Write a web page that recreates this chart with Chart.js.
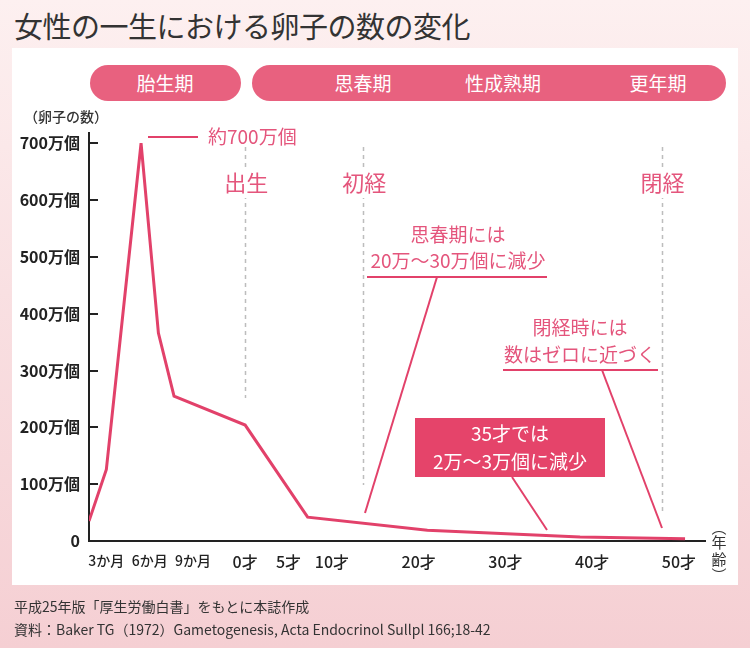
<!DOCTYPE html>
<html lang="ja">
<head>
<meta charset="UTF-8">
<title>女性の一生における卵子の数の変化</title>
<script src="https://cdn.jsdelivr.net/npm/chart.js"></script>
<style>
  html, body { margin: 0; padding: 0; }
  body {
    width: 750px; height: 648px; position: relative; overflow: hidden;
    font-family: "Noto Sans CJK JP", "Noto Sans", sans-serif;
    background: linear-gradient(180deg, #fdf0f0 0%, #f9e0e2 45%, #f5cfd3 100%);
  }
  .panel { position: absolute; left: 12px; top: 48px; width: 726px; height: 537px; background: #fff; }
  h1 { position: absolute; left: 14px; top: 5px; margin: 0; font-size: 29px; line-height: 40px;
       font-weight: 400; color: #333; letter-spacing: -0.5px; }
  .pill { position: absolute; top: 65px; height: 36px; border-radius: 18px; background: #e8617f;
          color: #fff; font-size: 19px; line-height: 36px; }
  .pill span { position: absolute; transform: translateX(-50%); white-space: nowrap; }
  #myChart { position: absolute; left: 0; top: 0; }
  .foot { position: absolute; left: 14px; top: 595px; font-size: 14px; line-height: 23px; color: #333; }
</style>
</head>
<body>
  <h1>女性の一生における卵子の数の変化</h1>
  <div class="panel"></div>
  <div class="pill" style="left:90px;width:151px;"><span style="left:75px;">胎生期</span></div>
  <div class="pill" style="left:252px;width:474px;">
    <span style="left:111px;">思春期</span>
    <span style="left:251px;">性成熟期</span>
    <span style="left:406px;">更年期</span>
  </div>
  <canvas id="myChart" width="750" height="648"></canvas>
  <div class="foot">
    平成25年版「厚生労働白書」をもとに本誌作成<br>
    資料：Baker TG（1972）Gametogenesis, Acta Endocrinol Sullpl 166;18-42
  </div>

<script>
// 横軸の位置 (出生 = 0, 胎生期は左側に圧縮)
const agePos = [-18, -16, -12, -10, -8.2, 0, 7.2, 21, 38.6, 50.7];
// 卵子の数 (万個)
const eggCount = [35, 126, 700, 366, 255, 204, 42, 19, 7, 4];

const xTickPos = [-16, -11, -6, 0, 5, 10, 20, 30, 40, 50];
const xTickLabels = ['3か月', '6か月', '9か月', '0才', '5才', '10才', '20才', '30才', '40才', '50才'];
const yTickValues = [0, 100, 200, 300, 400, 500, 600, 700];

// 出生・初経・閉経
const eventPos = [0, 13.6, 48];
const eventLabels = ['出生', '初経', '閉経'];

const PINK = '#e4557c';
const LINE = '#e2416a';

// 目盛り線(内向き)・点線・注釈
const decoPlugin = {
    id: 'deco',
    beforeDatasetsDraw: function (chart) {
        const ctx = chart.ctx;
        const x = chart.scales.x;
        const y = chart.scales.y;
        ctx.save();
        // 点線
        const bottoms = [398, 485, 515];
        ctx.strokeStyle = '#bdbdbd';
        ctx.lineWidth = 1.5;
        ctx.setLineDash([4, 4]);
        eventPos.forEach(function (v, i) {
            const px = Math.round(x.getPixelForValue(v)) + 0.5;
            ctx.beginPath();
            ctx.moveTo(px, 147);
            ctx.lineTo(px, bottoms[i]);
            ctx.stroke();
        });
        ctx.setLineDash([]);
        // ラベル
        ctx.font = '22px "Noto Sans CJK JP"';
        ctx.textAlign = 'center';
        ctx.textBaseline = 'middle';
        eventLabels.forEach(function (t, i) {
            const px = x.getPixelForValue(eventPos[i]);
            const w = ctx.measureText(t).width;
            ctx.fillStyle = '#fff';
            ctx.fillRect(px - w / 2 - 2, 170, w + 4, 28);
            ctx.fillStyle = PINK;
            ctx.fillText(t, px + 1, 183);
        });
        // y軸の目盛り
        ctx.strokeStyle = '#222';
        ctx.lineWidth = 2;
        yTickValues.forEach(function (v) {
            if (v === 0) return;
            const py = Math.round(y.getPixelForValue(v));
            ctx.beginPath();
            ctx.moveTo(x.left, py);
            ctx.lineTo(x.left + 9, py);
            ctx.stroke();
        });
        ctx.restore();
    },
    afterDatasetsDraw: function (chart) {
        const ctx = chart.ctx;
        ctx.save();
        ctx.strokeStyle = LINE;
        ctx.lineWidth = 2;
        function line(x1, y1, x2, y2) {
            ctx.beginPath();
            ctx.moveTo(x1, y1);
            ctx.lineTo(x2, y2);
            ctx.stroke();
        }
        // 約700万個
        line(148, 137, 198, 137);
        // 思春期
        line(367, 277, 547, 277);
        line(437, 277, 365, 513);
        // 閉経時
        line(503, 370, 658, 370);
        line(602, 370, 662, 528);
        // 35才
        line(512, 477, 547, 530);
        ctx.fillStyle = '#e5446a';
        ctx.fillRect(415, 418, 190, 59);

        ctx.textBaseline = 'middle';
        ctx.fillStyle = PINK;
        ctx.textAlign = 'left';
        ctx.font = '19px "Noto Sans CJK JP"';
        ctx.fillText('約700万個', 208, 137);
        ctx.textAlign = 'center';
        ctx.fillText('思春期には', 458, 235);
        ctx.fillText('20万～30万個に減少', 458, 261);
        ctx.fillText('閉経時には', 580, 328);
        ctx.fillText('数はゼロに近づく', 580, 355);
        ctx.fillStyle = '#fff';
        ctx.fillText('35才では', 510, 434);
        ctx.fillText('2万～3万個に減少', 510, 462);

        // 軸タイトル
        ctx.fillStyle = '#333';
        ctx.textAlign = 'left';
        ctx.font = '500 14px "Noto Sans CJK JP"';
        ctx.fillText('（卵子の数）', 24, 117);
        ctx.textAlign = 'center';
        ctx.font = '15px "Noto Sans CJK JP"';
        ['︵', '年', '齢', '︶'].forEach(function (c, i) {
            ctx.fillText(c, 719, [527, 542, 559, 575][i]);
        });
        ctx.restore();
    }
};

const ctx = document.getElementById('myChart');
const config = {
    type: 'line',
    data: {
        datasets: [{
            data: agePos.map(function (v, i) { return { x: v, y: eggCount[i] }; }),
            borderColor: LINE,
            borderWidth: 3,
            pointRadius: 0,
            tension: 0,
            fill: false
        }]
    },
    options: {
        responsive: false,
        animation: false,
        layout: { padding: { top: 133, right: 45, left: 0, bottom: 0 } },
        plugins: { legend: { display: false }, tooltip: { enabled: false } },
        scales: {
            x: {
                type: 'linear',
                min: -18,
                max: 53,
                grid: { display: false, drawTicks: false },
                border: { color: '#222', width: 2 },
                afterBuildTicks: function (s) { s.ticks = xTickPos.map(function (v) { return { value: v }; }); },
                afterFit: function (s) { s.height = 107; },
                ticks: {
                    autoSkip: false,
                    maxRotation: 0,
                    padding: 11,
                    color: '#222',
                    font: function (c) {
                        // か月は詰めて小さめ
                        return { family: '"Noto Sans CJK JP"', size: c.index < 3 ? 14 : 16, weight: '500' };
                    },
                    callback: function (v, i) { return xTickLabels[i]; }
                }
            },
            y: {
                min: 0,
                max: 718,
                grid: { display: false, drawTicks: false },
                border: { color: '#222', width: 2 },
                afterBuildTicks: function (s) { s.ticks = yTickValues.map(function (v) { return { value: v }; }); },
                afterFit: function (s) { s.width = 89; },
                ticks: {
                    padding: 9,
                    color: '#222',
                    font: { family: '"Noto Sans CJK JP"', size: 16, weight: 'bold' },
                    callback: function (v) { return v === 0 ? '0' : v + '万個'; }
                }
            }
        }
    },
    plugins: [decoPlugin]
};
new Chart(ctx, config);
</script>
</body>
</html>
